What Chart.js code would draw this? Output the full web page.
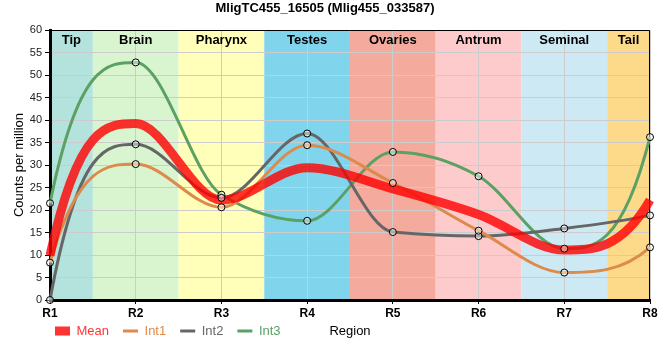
<!DOCTYPE html>
<html>
<head>
<meta charset="utf-8">
<script src="https://cdn.jsdelivr.net/npm/chart.js@4/dist/chart.umd.min.js"></script>
<style>
  body { margin: 0; background: #fff; }
</style>
</head>
<body>
<canvas id="chart-expr" width="660" height="360"></canvas>
<script>
// values, counts per million
const regions = ['R1', 'R2', 'R3', 'R4', 'R5', 'R6', 'R7', 'R8'];
const zones = ['Tip', 'Brain', 'Pharynx', 'Testes', 'Ovaries', 'Antrum', 'Seminal', 'Tail'];
const meanValues = [9.9, 39.2, 22.2, 29.4, 24.7, 19.0, 11.1, 22.2];
const int1Values = [8.3, 30.2, 20.6, 34.4, 26.0, 15.4, 6.1, 11.7];
const int2Values = [0, 34.6, 22.7, 37.0, 15.1, 14.2, 15.9, 18.8];
const int3Values = [21.5, 52.8, 23.4, 17.6, 32.9, 27.5, 11.4, 36.2];
const yTicks = [0, 5, 10, 15, 20, 25, 30, 35, 40, 45, 50, 55, 60];

const zoneColors = ['#b4e3de', '#d8f5d0', '#ffffba', '#80d4ec', '#f4ab9e', '#fdcbcb', '#cdeaf4', '#fdd98a'];
const lineColors = {
  mean: 'rgba(255, 0, 0, 0.8)',
  int1: 'rgb(221, 138, 75)',
  int2: 'rgb(102, 102, 102)',
  int3: 'rgb(92, 160, 100)'
};

Chart.defaults.font.family = '"Liberation Sans", Arial, sans-serif';
Chart.defaults.color = '#000';

// coloured body zones behind the grid, names at the top
const zonesPlugin = {
  id: 'zones',
  beforeDraw(chart) {
    const {ctx, chartArea, scales} = chart;
    ctx.save();
    zones.forEach((z, i) => {
      const x0 = Math.max(chartArea.left, scales.x.getPixelForValue(i - 0.5));
      const x1 = Math.min(chartArea.right, scales.x.getPixelForValue(i + 0.5));
      ctx.fillStyle = zoneColors[i];
      ctx.fillRect(x0, chartArea.top, x1 - x0, chartArea.bottom - chartArea.top);
    });
    ctx.restore();
  },
  beforeDatasetsDraw(chart) {
    const {ctx, chartArea, scales} = chart;
    ctx.save();
    ctx.font = 'bold 13px "Liberation Sans", Arial, sans-serif';
    ctx.fillStyle = '#000';
    ctx.textAlign = 'center';
    ctx.textBaseline = 'middle';
    zones.forEach((z, i) => {
      const x0 = Math.max(chartArea.left, scales.x.getPixelForValue(i - 0.5));
      const x1 = Math.min(chartArea.right, scales.x.getPixelForValue(i + 0.5));
      ctx.fillText(z, (x0 + x1) / 2, chartArea.top + 10);
    });
    // thin frame on top and right
    ctx.strokeStyle = '#000';
    ctx.lineWidth = 1;
    ctx.beginPath();
    ctx.moveTo(chartArea.left, chartArea.top + 0.5);
    ctx.lineTo(chartArea.right - 0.5, chartArea.top + 0.5);
    ctx.lineTo(chartArea.right - 0.5, chartArea.bottom);
    ctx.stroke();
    ctx.restore();
  }
};

// the original curves are monotone but much steeper at both ends,
// so the control points get recomputed from the element positions
const curvePlugin = {
  id: 'steepEnds',
  beforeDatasetsDraw(chart) {
    chart.data.datasets.forEach((ds, i) => {
      if (ds.showLine === false) return;
      const meta = chart.getDatasetMeta(i);
      const line = meta.dataset;
      const pts = meta.data;
      const n = pts.length;
      if (n < 3) return;
      if (typeof line.updateControlPoints === 'function') {
        line.updateControlPoints(chart.chartArea, 'x');
      }
      const s = [];
      const t = [];
      for (let k = 0; k < n - 1; k++) {
        s.push((pts[k + 1].y - pts[k].y) / (pts[k + 1].x - pts[k].x));
      }
      for (let k = 1; k < n - 1; k++) {
        const h0 = pts[k].x - pts[k - 1].x;
        const h1 = pts[k + 1].x - pts[k].x;
        const p = (s[k - 1] * h1 + s[k] * h0) / (h0 + h1);
        t[k] = (Math.sign(s[k - 1]) + Math.sign(s[k])) *
          Math.min(Math.abs(s[k - 1]), Math.abs(s[k]), 0.5 * Math.abs(p)) || 0;
      }
      t[0] = 3 * s[0] - 2 * t[1];
      t[n - 1] = 3 * s[n - 2] - 2 * t[n - 2];
      for (let k = 0; k < n; k++) {
        const pt = pts[k];
        const hPrev = k > 0 ? (pt.x - pts[k - 1].x) / 3 : 0;
        const hNext = k < n - 1 ? (pts[k + 1].x - pt.x) / 3 : 0;
        pt.cp1x = pt.x - hPrev;
        pt.cp1y = pt.y - t[k] * hPrev;
        pt.cp2x = pt.x + hNext;
        pt.cp2y = pt.y + t[k] * hNext;
      }
      line._path = undefined;
    });
  }
};

// legend shares its row with the x axis title
const legendNudge = {
  id: 'legendNudge',
  afterLayout(chart) {
    const lg = chart.legend;
    const dy = lg.top + 14 + 6.5 - 331;
    lg.left -= 9;
    lg.right -= 9;
    lg.top -= dy;
    lg.bottom -= dy;
  }
};

function pointSet(values) {
  return {
    label: '',
    data: values,
    showLine: false,
    pointRadius: 3.5,
    pointBorderWidth: 1,
    pointBorderColor: '#000',
    pointBackgroundColor: 'rgba(255, 255, 255, 0.45)',
    clip: false
  };
}

function lineSet(label, values, color, width) {
  return {
    label: label,
    data: values,
    borderColor: color,
    backgroundColor: color,
    borderWidth: width,
    pointRadius: 0,
    cubicInterpolationMode: 'monotone',
    tension: 0.4,
    fill: false
  };
}

const ctx = document.getElementById('chart-expr');

new Chart(ctx, {
  type: 'line',
  data: {
    labels: regions,
    datasets: [
      pointSet(int1Values),
      pointSet(int2Values),
      pointSet(int3Values),
      lineSet('Mean', meanValues, lineColors.mean, 9),
      lineSet('Int1', int1Values, lineColors.int1, 3),
      lineSet('Int2', int2Values, lineColors.int2, 3),
      lineSet('Int3', int3Values, lineColors.int3, 3)
    ]
  },
  options: {
    responsive: false,
    animation: false,
    layout: { padding: { left: 0, right: 10, top: 0, bottom: 3 } },
    plugins: {
      tooltip: { enabled: false },
      title: {
        display: true,
        text: 'MligTC455_16505 (Mlig455_033587)',
        font: { size: 13, weight: 'bold' },
        color: '#000',
        padding: { top: 1, bottom: 13.4 }
      },
      legend: {
        position: 'bottom',
        align: 'start',
        fullSize: false,
        labels: {
          font: { size: 13 },
          padding: 14,
          usePointStyle: true,
          pointStyleWidth: 15,
          generateLabels: chart => chart.data.datasets
            .map((ds, i) => ({
              text: ds.label,
              fillStyle: ds.borderColor,
              strokeStyle: ds.borderColor,
              fontColor: ds.borderColor,
              lineWidth: ds.borderWidth,
              pointStyle: 'line',
              hidden: false,
              datasetIndex: i,
              show: ds.showLine !== false
            }))
            .filter(item => item.show)
        }
      }
    },
    scales: {
      x: {
        afterFit: scale => { scale.height = 20; },
        grid: { color: '#cccccc', tickColor: '#000', tickLength: 4 },
        border: { color: '#000', width: 3 },
        ticks: { font: { size: 12, weight: 'bold' }, color: '#000', padding: 2, maxRotation: 0 },
        title: {
          display: true,
          text: 'Region',
          font: { size: 13 },
          color: '#000',
          padding: { top: 0, bottom: -18.8 }
        }
      },
      y: {
        min: 0,
        max: 60,
        afterFit: scale => { scale.width = 50; },
        afterBuildTicks: scale => { scale.ticks = yTicks.map(v => ({ value: v })); },
        grid: { color: '#cccccc', tickColor: '#000', tickLength: 5 },
        border: { color: '#000', width: 3 },
        ticks: { font: { size: 11 }, color: '#222', padding: 3 },
        title: {
          display: true,
          text: 'Counts per million',
          font: { size: 13 },
          color: '#000',
          padding: { top: 12, bottom: 0 }
        }
      }
    }
  },
  plugins: [zonesPlugin, curvePlugin, legendNudge]
});
</script>
</body>
</html>
